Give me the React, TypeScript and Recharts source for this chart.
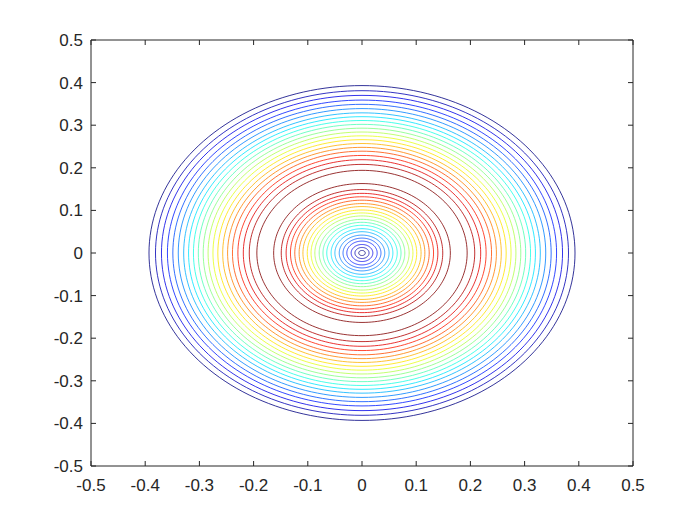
import { ScatterChart, Scatter, XAxis, YAxis } from 'recharts'

// contour levels, lowest (dark blue) to highest (dark red)
const levels = [1, 2, 3, 4, 5, 6, 7, 8, 9, 10, 11, 12, 13, 14, 15, 16, 17, 18, 19, 20, 21]
// radius of each level's ring inside the peak
const innerRadius = [
  0.006, 0.013, 0.02, 0.028, 0.035, 0.042, 0.05, 0.057, 0.065, 0.072,
  0.079, 0.087, 0.094, 0.101, 0.109, 0.116, 0.124, 0.132, 0.14, 0.149, 0.163,
]
// radius of each level's ring outside the peak
const outerRadius = [
  0.393, 0.381, 0.37, 0.359, 0.349, 0.339, 0.329, 0.32, 0.311, 0.302,
  0.293, 0.284, 0.275, 0.266, 0.257, 0.248, 0.239, 0.229, 0.219, 0.208, 0.194,
]
const ticks = [-0.5, -0.4, -0.3, -0.2, -0.1, 0, 0.1, 0.2, 0.3, 0.4, 0.5]

const AXIS = '#262626'
const FONT = { fill: AXIS, fontSize: 17, fontFamily: 'Liberation Sans, Arial, sans-serif' }

function jet(t: number) {
  const c = (v: number) => Math.round(255 * Math.max(0, Math.min(1, v)))
  return `rgb(${c(1.5 - Math.abs(4 * t - 3))},${c(1.5 - Math.abs(4 * t - 2))},${c(1.5 - Math.abs(4 * t - 1))})`
}

// trace a closed ring of the given radius around the origin
function ring(r: number) {
  const pts = []
  for (let i = 0; i <= 180; i++) {
    const a = (i / 180) * Math.PI * 2
    pts.push({ x: r * Math.cos(a), y: r * Math.sin(a) })
  }
  return pts
}

const rings = levels.flatMap((lv, i) => {
  const color = jet((lv - 1) / (levels.length - 1))
  return [
    { key: `in${lv}`, color, data: ring(innerRadius[i]) },
    { key: `out${lv}`, color, data: ring(outerRadius[i]) },
  ]
})

const fmt = (v: number) => (v === 0 ? '0' : String(v))

export default function App() {
  return (
    <div style={{ position: 'absolute', left: 0, top: 0, background: '#fff' }}>
      <ScatterChart width={700} height={525} margin={{ top: 39, right: 66, bottom: 29, left: 51 }}>
        <XAxis
          xAxisId="b"
          type="number"
          dataKey="x"
          domain={[-0.5, 0.5]}
          ticks={ticks}
          tickFormatter={fmt}
          allowDataOverflow
          height={30}
          stroke={AXIS}
          tickSize={-5}
          tickMargin={18}
          tick={FONT}
          interval={0}
        />
        <XAxis
          xAxisId="t"
          orientation="top"
          type="number"
          dataKey="x"
          domain={[-0.5, 0.5]}
          ticks={ticks}
          tickFormatter={() => ''}
          allowDataOverflow
          height={1}
          stroke={AXIS}
          tickSize={-5}
          interval={0}
        />
        <YAxis
          yAxisId="l"
          type="number"
          dataKey="y"
          domain={[-0.5, 0.5]}
          ticks={ticks}
          tickFormatter={fmt}
          allowDataOverflow
          width={40}
          stroke={AXIS}
          tickSize={-5}
          tickMargin={13}
          tick={FONT}
          interval={0}
        />
        <YAxis
          yAxisId="r"
          orientation="right"
          type="number"
          dataKey="y"
          domain={[-0.5, 0.5]}
          ticks={ticks}
          tickFormatter={() => ''}
          allowDataOverflow
          width={1}
          stroke={AXIS}
          tickSize={-5}
          interval={0}
        />
        {rings.map((r) => (
          <Scatter
            key={r.key}
            xAxisId="b"
            yAxisId="l"
            data={r.data}
            line={{ stroke: r.color, strokeWidth: 0.8 }}
            lineType="joint"
            shape={() => <g />}
            isAnimationActive={false}
          />
        ))}
      </ScatterChart>
    </div>
  )
}
